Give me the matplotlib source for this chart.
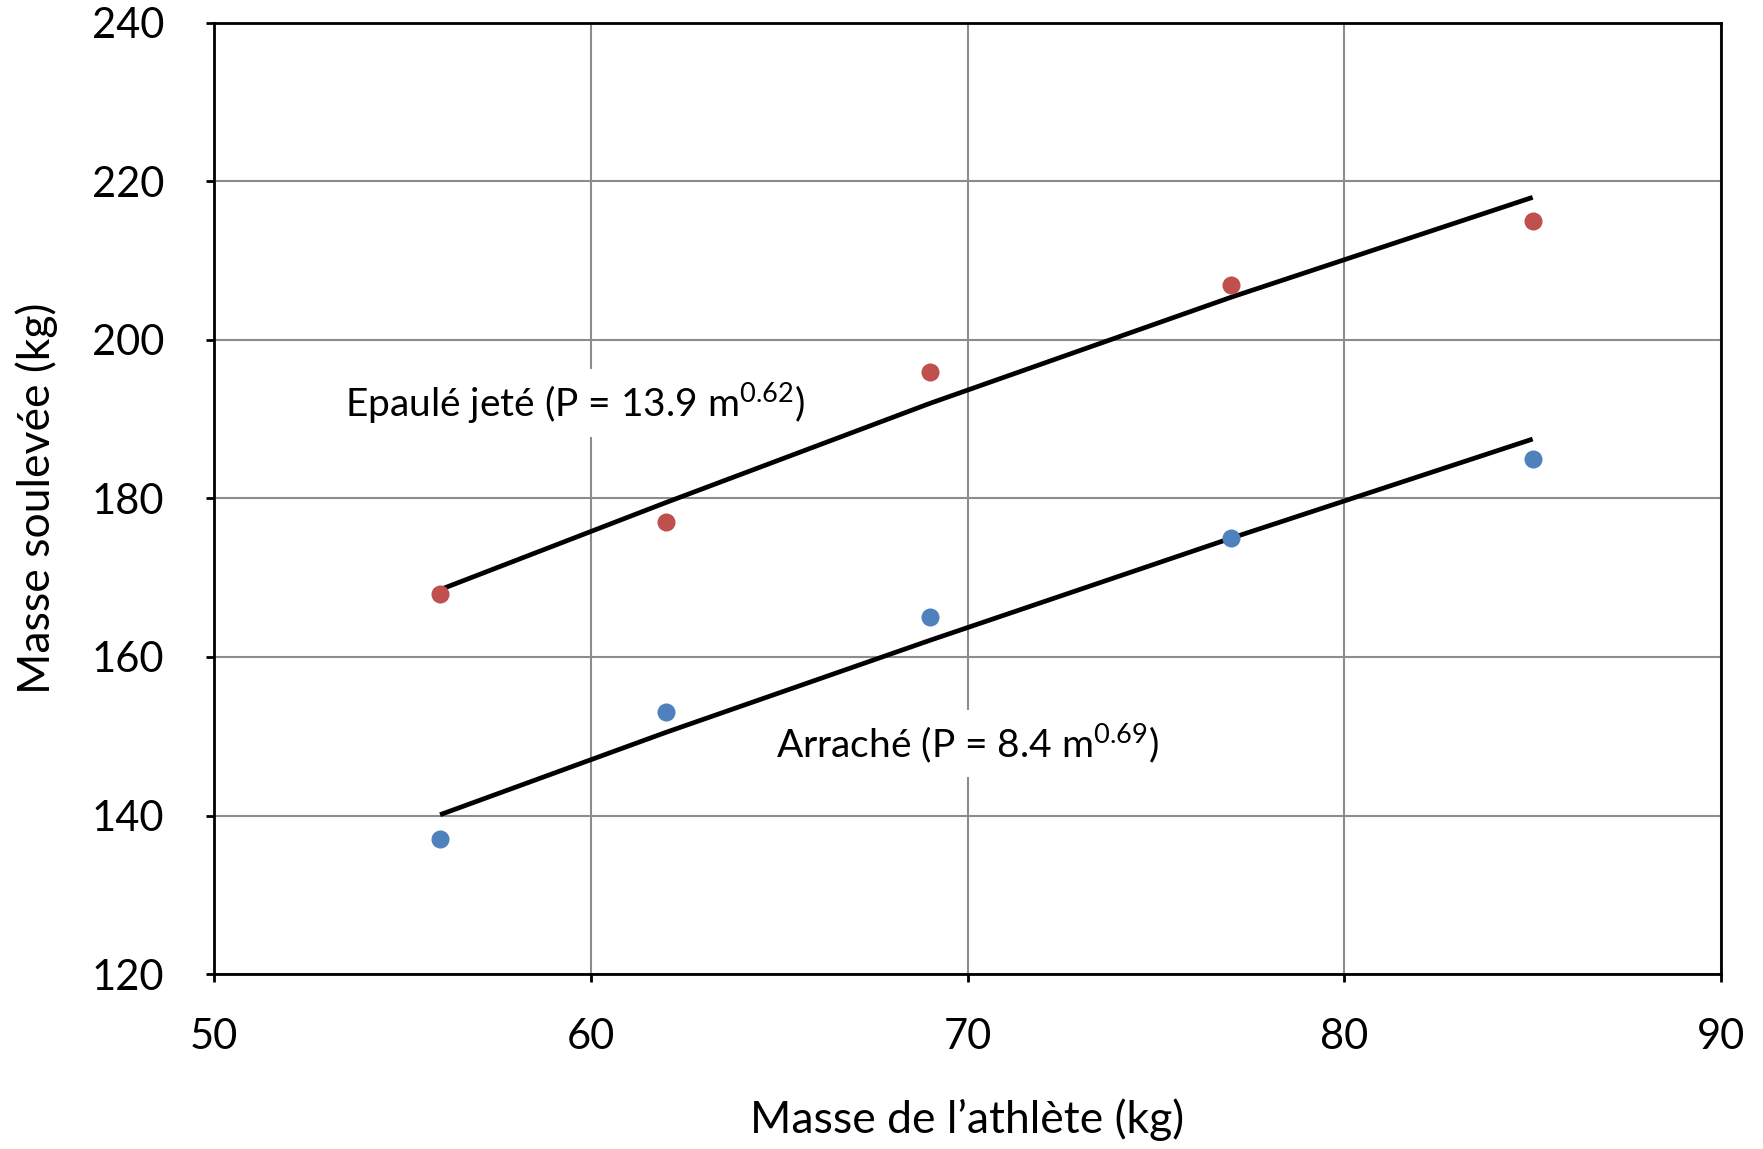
import numpy as np
import matplotlib
matplotlib.use("Agg")
import matplotlib.pyplot as plt

plt.rcParams['font.family'] = ['Lato', 'DejaVu Sans']
plt.rcParams['mathtext.fontset'] = 'custom'
plt.rcParams['mathtext.rm'] = 'Lato'
plt.rcParams['mathtext.it'] = 'Lato'

# masse de l'athlète (kg) et masses soulevées (kg)
masse = [56, 62, 69, 77, 85]
epaule_jete = [168, 177, 196, 207, 215]
arrache = [137, 153, 165, 175, 185]

# courbes d'ajustement
fit_epaule = [168.5, 179.5, 192.0, 205.4, 218.0]
fit_arrache = [140.1, 150.5, 162.1, 175.0, 187.5]

label_epaule = r"Epaulé jeté (P = 13.9 m$^{0.62}$)"
label_arrache = r"Arraché (P = 8.4 m$^{0.69}$)"

fig = plt.figure(figsize=(17.63, 11.49), dpi=100)
ax = fig.add_axes([0.1214, 0.1523, 0.8548, 0.8277])

ax.grid(True, color='#8c8c8c', linewidth=1.5, zorder=0)
ax.set_axisbelow(True)

ax.plot(masse, fit_epaule, color='black', lw=3.4, solid_capstyle='butt', zorder=3)
ax.plot(masse, fit_arrache, color='black', lw=3.4, solid_capstyle='butt', zorder=3)
ax.plot(masse, epaule_jete, 'o', color='#C0504D', ms=13, mec='none', zorder=4)
ax.plot(masse, arrache, 'o', color='#4F81BD', ms=13, mec='none', zorder=4)

box = dict(facecolor='white', edgecolor='none', pad=8)
ax.text(59.58, 192.0, label_epaule, fontsize=28, ha='center', va='center', bbox=box, zorder=2)
ax.text(70.0, 149.1, label_arrache, fontsize=28, ha='center', va='center', bbox=box, zorder=2)

ax.set_xlim(50, 90)
ax.set_ylim(120, 240)
ax.set_xticks(np.arange(50, 91, 10))
ax.set_yticks(np.arange(120, 241, 20))

for s in ax.spines.values():
    s.set_linewidth(2)
    s.set_color('black')
ax.tick_params(axis='both', direction='out', length=6, width=2, labelsize=30, color='black')
ax.tick_params(axis='y', pad=30)
ax.tick_params(axis='x', pad=26)

ax.set_xlabel("Masse de l’athlète (kg)", fontsize=32, labelpad=30)
ax.set_ylabel("Masse soulevée (kg)", fontsize=32, labelpad=24)

fig.savefig("out.png", dpi=100)
